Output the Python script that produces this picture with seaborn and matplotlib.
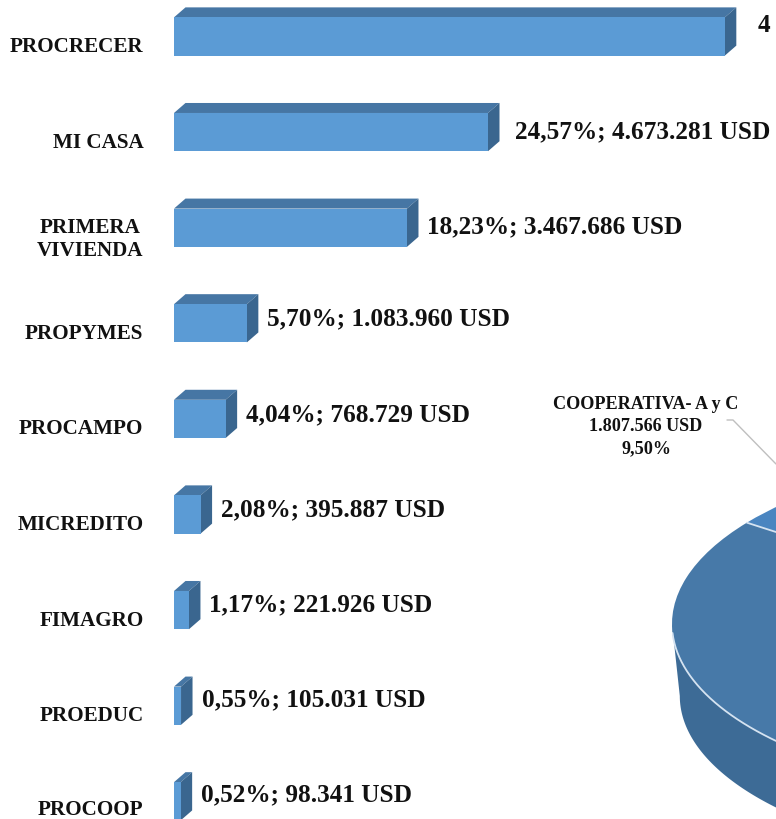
import matplotlib
matplotlib.use('Agg')
import matplotlib.pyplot as plt
import matplotlib.transforms as mtrans
from matplotlib.lines import Line2D
import numpy as np
import pandas as pd
import seaborn as sns

# Data
programas = ['PROCRECER', 'MI CASA', 'PRIMERA\nVIVIENDA', 'PROPYMES', 'PROCAMPO',
             'MICREDITO', 'FIMAGRO', 'PROEDUC', 'PROCOOP']
porcentajes = [43.1, 24.57, 18.23, 5.70, 4.04, 2.08, 1.17, 0.55, 0.52]
etiquetas = ['4', '24,57%; 4.673.281 USD', '18,23%; 3.467.686 USD', '5,70%; 1.083.960 USD',
             '4,04%; 768.729 USD', '2,08%; 395.887 USD', '1,17%; 221.926 USD',
             '0,55%; 105.031 USD', '0,52%; 98.341 USD']
pie_valores = [9.50, 90.50]
pie_etiqueta = 'COOPERATIVA- A y C\n1.807.566 USD\n9,50%'

W, H = 776, 820
FONT = 'Liberation Serif'
FRONT, TOP, SIDE = '#5B9BD5', '#4676A4', '#3A668F'
BORDE = '#D5E3F1'

sns.set_style('white')
plt.rcParams['font.family'] = FONT
plt.rcParams['font.weight'] = 'bold'

fig = plt.figure(figsize=(W / 100, H / 100), dpi=100)

# Bars: axes starts at the bars' baseline, 12.78 px per percent, 95.6 px per category
ax = fig.add_axes([174 / W, 0, (W - 174) / W, 1])
df = pd.DataFrame({'programa': programas, 'pct': porcentajes})
sns.barplot(df, x='pct', y='programa', color=FRONT, saturation=1, width=0.4, orient='h',
            linewidth=0, ax=ax, zorder=3)
px_x, px_y = 12.78, 95.6
ax.set_xlim(0, (W - 174) / px_x)
ax.set_ylim((H - 37.5) / px_y, -37.5 / px_y)
ax.set_xlabel('')
ax.set_ylabel('')
ax.set_xticks([])
sns.despine(ax=ax, left=True, bottom=True)
ax.tick_params(axis='y', length=0, pad=22, labelsize=15.2, labelcolor='#111111')

# fake 3D depth on each bar
dx, dy = 11.5 / px_x, 10 / px_y
for p in ax.patches:
    x0, y0, w, h = p.get_x(), p.get_y(), p.get_width(), p.get_height()
    ax.fill([x0, x0 + dx, x0 + w + dx, x0 + w], [y0, y0 - dy, y0 - dy, y0], color=TOP, lw=0, zorder=2)
    ax.fill([x0 + w, x0 + w + dx, x0 + w + dx, x0 + w], [y0, y0 - dy, y0 + h - dy, y0 + h], color=SIDE, lw=0, zorder=2)

# category labels sit a bit below the bar centre, the last one a little less to stay on the page
bajar = [7, 7, 7, 7, 7, 7, 7, 7, 5.5]
for lab, baja in zip(ax.get_yticklabels(), bajar):
    lab.set_multialignment('center')
    lab.set_transform(lab.get_transform() + mtrans.ScaledTranslation(0, -baja / 100, fig.dpi_scale_trans))

# value labels: gap after the bar and shift up from its centre, in px
gaps = [21, 15.5, 8.5, 9, 9, 9, 9, 9, 9]
subir = [12, 1.5, 1.5, 5, 5, 6, 6, 7, 7]
for i, texto in enumerate(etiquetas):
    ax.annotate(texto, (porcentajes[i], i), xytext=((11.5 + gaps[i]) * 0.72, subir[i] * 0.72),
                textcoords='offset points', va='center', ha='left', fontsize=18.2, color='#111111',
                annotation_clip=False)

# Pie, cut off by the right edge. Unit circle squashed to the ellipse through stretching the axes
cx, cy, a, b = 1062, 625, 390, 172
pie_ax = fig.add_axes([(cx - a) / W, 0, (W - cx + a) / W, (H - cy + b) / H])
cunas, _ = pie_ax.pie(pie_valores, startangle=109.7, colors=['#4A85C0', '#4779A8'], radius=1,
                      wedgeprops=dict(linewidth=0, zorder=3))
pie_ax.set_aspect('auto')
pie_ax.set_xlim(-1, (W - cx) / a)
pie_ax.set_ylim(-(H - cy) / b, 1)
pie_ax.patch.set_alpha(0)

# side wall, the lower ellipse is slightly smaller
t = np.radians(np.linspace(180, 290, 200))
arriba_x, arriba_y = np.cos(t), np.sin(t)
abajo_x, abajo_y = 0.98 * np.cos(t), -72 / b + 0.977 * np.sin(t)
pie_ax.fill(np.r_[arriba_x, abajo_x[::-1]], np.r_[arriba_y, abajo_y[::-1]], color='#3D6B96', lw=0, zorder=2)

# light rim along the front edge and the slice separator
rim = np.radians(np.linspace(183, 290, 200))
pie_ax.plot(np.cos(rim), np.sin(rim), color=BORDE, lw=1.3, zorder=4)
sep = np.radians(cunas[0].theta2)
pie_ax.plot([np.cos(sep), 0], [np.sin(sep), 0], color=BORDE, lw=1.3, zorder=4)

fig.text(646 / W, 1 - 426.5 / H, pie_etiqueta, ha='center', va='center', ma='center',
         fontsize=13.1, color='#111111', linespacing=1.42)
fig.add_artist(Line2D(np.array([727, 733, 776]) / W, 1 - np.array([421, 421, 465]) / H,
                      color='#BFBFBF', lw=1))

fig.savefig('out.png', dpi=100)
